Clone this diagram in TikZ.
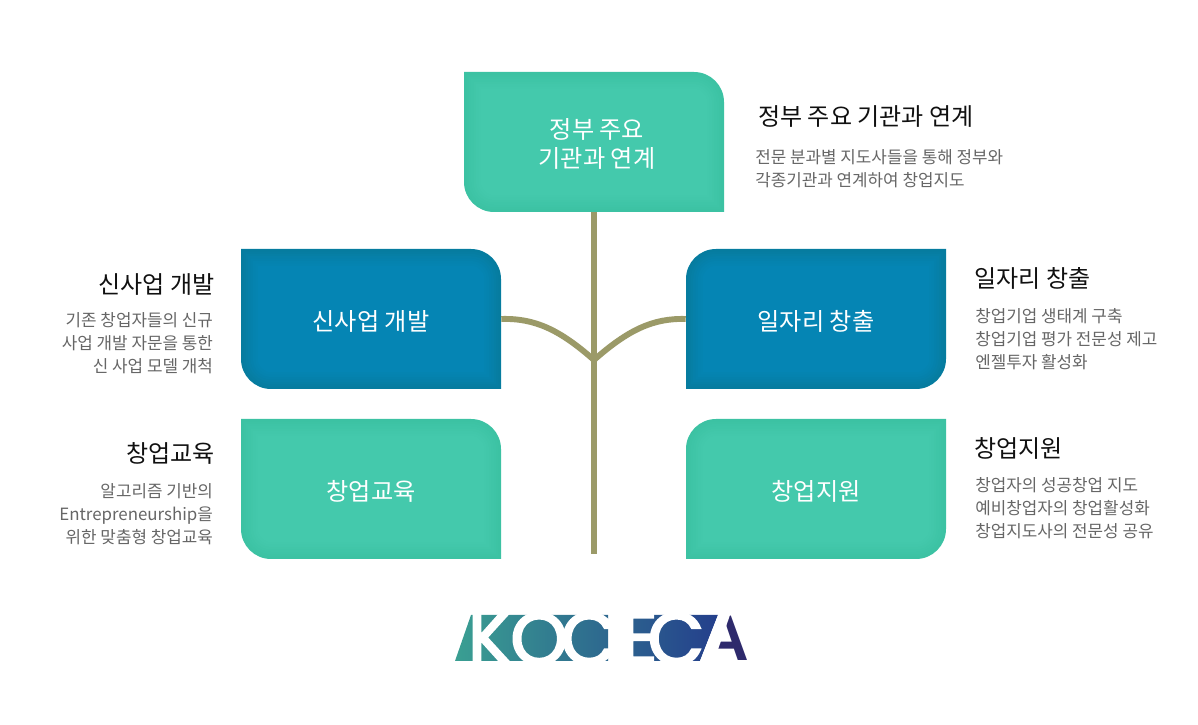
\documentclass[tikz,border=0pt]{standalone}
\usepackage{fontspec}
\setmainfont{Noto Sans CJK KR}
\newfontfamily\logofont[FakeBold=3]{Poppins}
\newfontfamily\logofontA{Liberation Sans}
\usetikzlibrary{backgrounds}
\definecolor{tealedge}{HTML}{3CC2A3}
\definecolor{tealcore}{HTML}{44C9AC}
\definecolor{blueedge}{HTML}{067C9F}
\definecolor{bluecore}{HTML}{0585B4}
\definecolor{trunkcol}{HTML}{9B9A68}
\definecolor{titlecol}{HTML}{101010}
\definecolor{bodycol}{HTML}{666666}
\definecolor{logoleft}{HTML}{3A9F92}
\definecolor{logomid}{HTML}{2A7090}
\definecolor{logoright}{HTML}{243F8C}
\definecolor{logodark}{HTML}{2E2A6C}
% leaf shaped fill behind a box: node, flip, colour name
\newcommand{\leaffill}[3]{%
    \begin{scope}[on background layer, shift={(#1.center)}, yshift=0.05cm, xscale=#2]
        \foreach \d/\m in {0/0, 0.06/15, 0.12/30, 0.18/45, 0.24/60, 0.3/75, 0.36/88, 0.42/100} {
            \fill[#3core!\m!#3edge] (-3.25+\d,1.75-\d) -- (2.5,1.75-\d)
                arc[start angle=90, end angle=0, radius=0.75-\d] -- (3.25-\d,-1.75+\d)
                -- (-2.5,-1.75+\d) arc[start angle=270, end angle=180, radius=0.75-\d] -- cycle;
        }
    \end{scope}}
\begin{document}
\begin{tikzpicture}[
    box/.style={minimum width=6.5cm, minimum height=3.4cm, align=center, text=white, font=\fontsize{17.2}{20.6}\selectfont},
    heading/.style={text=titlecol, inner sep=0pt, font=\fontsize{17.1}{21}\selectfont},
    detail/.style={text=bodycol, inner sep=0pt, font=\fontsize{12}{16.2}\selectfont},
    trunk/.style={trunkcol, line width=4.2pt},
    letter/.style={anchor=base, inner sep=0pt, text=white, font=\logofont\fontsize{52}{52}\selectfont}
]
    \useasboundingbox (0,0) rectangle (29.95,18.125);

    % Boxes
    \node[box] (jungbu) at (14.85,14.525) {\hspace*{4.3pt}정부 주요\\\hspace*{4.3pt}기관과 연계};
    \node[box] (sinsaup) at (9.275,10.1) {신사업 개발};
    \node[box] (gyoyuk) at (9.275,5.85) {창업교육};
    \node[box] (ilja) at (20.4,10.1) {일자리 창출};
    \node[box] (jiwon) at (20.4,5.85) {창업지원};
    \leaffill{jungbu}{1}{teal}
    \leaffill{sinsaup}{1}{blue}
    \leaffill{gyoyuk}{1}{teal}
    \leaffill{ilja}{-1}{blue}
    \leaffill{jiwon}{-1}{teal}

    % Trunk and branches
    \coordinate (trunkend) at (14.85,4.275);
    \coordinate (joint) at (14.85,9.125);
    \draw[trunk] (jungbu) -- (trunkend);
    \draw[trunk] ([yshift=0.05cm]sinsaup.east) .. controls (13.375,10.175) and (14,9.875) .. (joint);
    \draw[trunk] ([yshift=0.05cm]ilja.west) .. controls (16.325,10.175) and (15.7,9.875) .. (joint);

    % Right column
    \node[heading, anchor=west] (t1) at (18.95,15.2) {정부 주요 기관과 연계};
    \node[detail, anchor=west, align=left] (d1) at (18.875,13.9) {전문 분과별 지도사들을 통해 정부와\\각종기관과 연계하여 창업지도};
    \node[heading, anchor=west] (t2) at (24.35,11.175) {일자리 창출};
    \node[detail, anchor=west, align=left] (d2) at (24.375,9.65) {창업기업 생태계 구축\\창업기업 평가 전문성 제고\\엔젤투자 활성화};
    \node[heading, anchor=west] (t3) at (24.35,6.925) {창업지원};
    \node[detail, anchor=west, align=left] (d3) at (24.375,5.425) {창업자의 성공창업 지도\\예비창업자의 창업활성화\\창업지도사의 전문성 공유};

    % Left column
    \node[heading, anchor=east] (t4) at (5.375,11) {신사업 개발};
    \node[detail, anchor=east, align=right] (d4) at (5.33,9.55) {기존 창업자들의 신규\\사업 개발 자문을 통한\\신 사업 모델 개척};
    \node[heading, anchor=east] (t5) at (5.375,6.8) {창업교육};
    \node[detail, anchor=east, align=right] (d5) at (5.33,5.27) {알고리즘 기반의\\Entrepreneurship을\\위한 맞춤형 창업교육};

    % Logo
    \shade[left color=logoleft, middle color=logomid, right color=logoright]
        (11.375,1.6) -- (11.775,2.75) -- (15.2,2.75) -- (15.2,1.6) -- cycle
        (15.625,1.6) -- (15.625,2.75) -- (17.95,2.75) -- (17.5,1.6) -- cycle;
    \node[letter] (logok) at (12.25,1.55) {K};
    \node[letter] (logoo) at (13.48,1.52) {O};
    \node[letter] (logoc) at (14.72,1.52) {C};
    \node[letter] (logoe) at (15.97,1.55) {E};
    \node[letter] (logocc) at (16.9,1.52) {C};
    \node[letter, text=logodark, font=\logofontA\bfseries\fontsize{46}{46}\selectfont] (logoa) at (18.15,1.6) {A};
    \fill[white] (17.95,2.75) -- (18.25,2.75) -- (17.85,1.6) -- (17.5,1.6) -- cycle;
\end{tikzpicture}
\end{document}
